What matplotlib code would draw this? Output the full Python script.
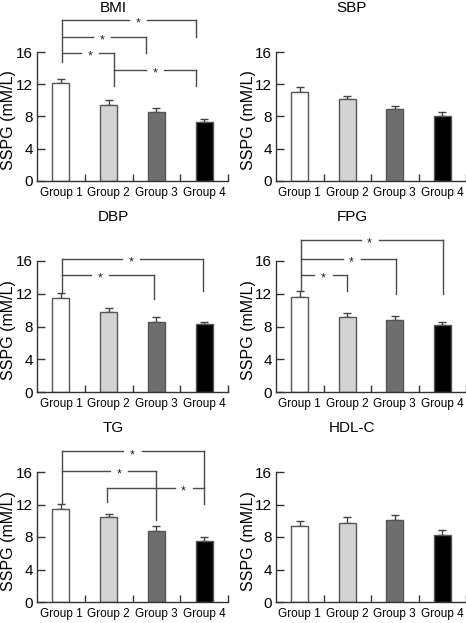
import matplotlib
matplotlib.use("Agg")
import matplotlib.pyplot as plt

plt.rcParams['font.family'] = ['Liberation Sans', 'DejaVu Sans']

# ---------------- Data ----------------
groups = ["Group 1", "Group 2", "Group 3", "Group 4"]
titles = ["BMI", "SBP", "DBP", "FPG", "TG", "HDL-C"]

bmi_mean = [12.2, 9.4, 8.6, 7.3]
bmi_err = [0.5, 0.7, 0.5, 0.35]
sbp_mean = [11.0, 10.15, 8.9, 8.0]
sbp_err = [0.65, 0.4, 0.45, 0.6]
dbp_mean = [11.45, 9.8, 8.6, 8.25]
dbp_err = [0.6, 0.45, 0.5, 0.3]
fpg_mean = [11.6, 9.1, 8.8, 8.2]
fpg_err = [0.7, 0.6, 0.5, 0.3]
tg_mean = [11.4, 10.45, 8.7, 7.45]
tg_err = [0.65, 0.33, 0.65, 0.6]
hdl_mean = [9.4, 9.75, 10.05, 8.3]
hdl_err = [0.6, 0.75, 0.6, 0.55]

means = [bmi_mean, sbp_mean, dbp_mean, fpg_mean, tg_mean, hdl_mean]
errs = [bmi_err, sbp_err, dbp_err, fpg_err, tg_err, hdl_err]

# significance brackets: (x left, x right, y line, y left end, y right end, x star)
bmi_sig = [(0.03, 2.82, 20.0, 14.8, 17.9, 1.61),
           (0.03, 1.79, 17.9, 17.9, 15.9, 0.86),
           (0.03, 1.11, 15.9, 15.9, 11.8, 0.61),
           (1.11, 2.82, 13.75, 13.75, 11.8, 1.97)]
dbp_sig = [(0.03, 2.97, 16.3, 12.1, 12.3, 1.47),
           (0.03, 1.94, 14.3, 14.3, 11.35, 0.82)]
fpg_sig = [(0.03, 3.02, 18.6, 12.4, 12.0, 1.47),
           (0.03, 2.02, 16.3, 16.3, 12.0, 1.09),
           (0.03, 1.0, 14.3, 14.3, 12.3, 0.5)]
tg_sig = [(0.03, 3.0, 18.55, 12.1, 12.1, 1.5),
          (0.03, 2.0, 16.15, 16.15, 10.1, 1.22),
          (0.97, 3.0, 14.05, 12.3, 14.05, 2.57)]
sigs = [bmi_sig, [], dbp_sig, fpg_sig, tg_sig, []]

bar_colors = ["white", "#d3d3d3", "#6e6e6e", "black"]

# ---------------- Layout (pixels of a 466x623 figure) ----------------
W, H = 466, 623
col_x = [(37, 228), (276, 466)]
row_y = [(52, 181), (261, 392), (472, 602)]
title_x = [113, 352]
ylabel_x = [9, 249]

fig = plt.figure(figsize=(W / 100, H / 100), dpi=100)

gap = 0.38
line_col = "#4a4a4a"

for k in range(6):
    r, c = divmod(k, 2)
    x0, x1 = col_x[c]
    ytop, ybot = row_y[r]
    ax = fig.add_axes([x0 / W, 1 - ybot / H, (x1 - x0) / W, (ybot - ytop) / H])

    xs = range(len(groups))
    ax.bar(xs, means[k], width=0.36, color=bar_colors, edgecolor="#555555",
           linewidth=1.0, zorder=2)
    ax.errorbar(xs, means[k], yerr=[[0] * 4, errs[k]], fmt="none",
                ecolor="#444444", elinewidth=1.0, capsize=3, capthick=1.0, zorder=1)

    ax.set_xlim(-0.5, 3.5)
    ax.set_ylim(0, 16)
    ax.set_yticks([0, 4, 8, 12, 16])
    ax.set_xticks(list(xs))
    ax.set_xticklabels(groups, fontsize=8.5)
    ax.set_xticks([0.5, 1.5, 2.5, 3.5], minor=True)
    ax.tick_params(axis="x", which="major", length=0, pad=4)
    ax.tick_params(axis="x", which="minor", direction="in", length=5,
                   width=1.0, color="#333333")
    ax.tick_params(axis="y", direction="in", length=6, width=1.0,
                   color="#333333", labelsize=11, pad=3)
    for s in ["top", "right"]:
        ax.spines[s].set_visible(False)
    for s in ["left", "bottom"]:
        ax.spines[s].set_color("#333333")
        ax.spines[s].set_linewidth(1.0)

    fig.text(ylabel_x[c] / W, 1 - (ytop + ybot + 8) / 2 / H, "SSPG (mM/L)",
             fontsize=11.5, rotation=90, ha="center", va="center")
    fig.text(title_x[c] / W, 1 - (ytop - 44) / H, titles[k], fontsize=11,
             ha="center", va="center")

    for xl, xr, yh, yl, yr, xst in sigs[k]:
        col = line_col
        lw = 1.0
        ax.plot([xl, xl], [yl, yh], color=col, lw=lw, clip_on=False)
        ax.plot([xr, xr], [yr, yh], color=col, lw=lw, clip_on=False)
        ax.plot([xl, xst - gap / 2], [yh, yh], color=col, lw=lw, clip_on=False)
        ax.plot([xst + gap / 2, xr], [yh, yh], color=col, lw=lw, clip_on=False)
        ax.text(xst, yh - 0.45, "*", fontsize=9, ha="center", va="center",
                color="#222222", clip_on=False)

fig.savefig("out.png", dpi=100)
